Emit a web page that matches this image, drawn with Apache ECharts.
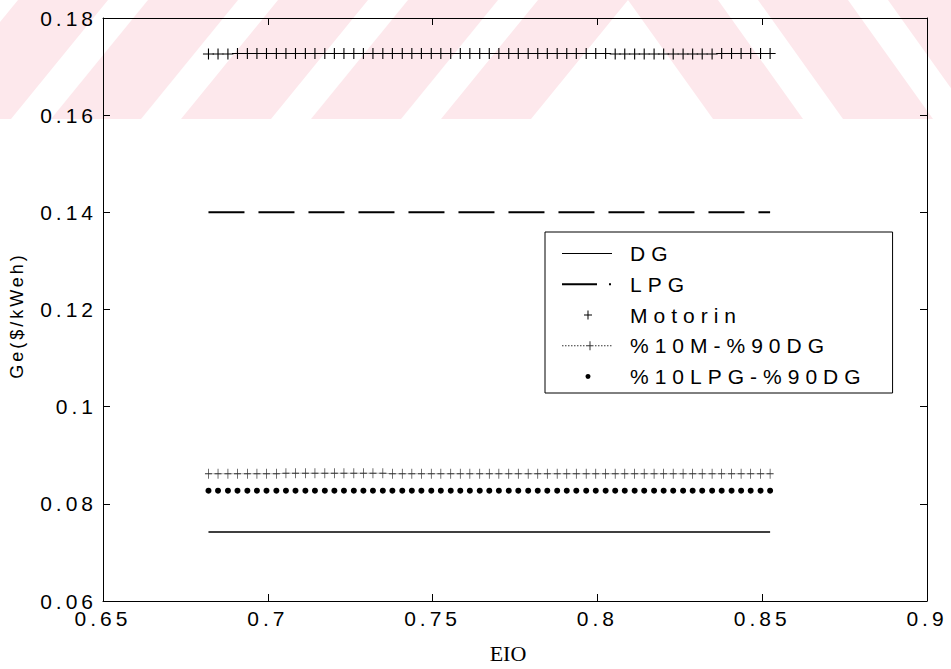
<!DOCTYPE html>
<html>
<head>
<meta charset="utf-8">
<script src="https://cdn.jsdelivr.net/npm/echarts@6/dist/echarts.min.js"></script>
<style>
html,body{margin:0;padding:0;background:#fff;}
#main{width:951px;height:669px;}
text[style*="tickfont"], text[font-family*="tickfont"]{letter-spacing:4px;}
text[style*="legendfont"], text[font-family*="legendfont"]{letter-spacing:6px;}
text[style*="ynamefont"], text[font-family*="ynamefont"]{letter-spacing:3px;}
</style>
</head>
<body>
<div id="main"></div>
<script>
// ---------------- data ----------------
const eio = [
  0.6820,0.6849,0.6879,0.6908,0.6938,0.6967,0.6996,0.7026,0.7055,0.7084,
  0.7114,0.7143,0.7173,0.7202,0.7231,0.7261,0.7290,0.7319,0.7349,0.7378,
  0.7408,0.7437,0.7466,0.7496,0.7525,0.7555,0.7584,0.7613,0.7643,0.7672,
  0.7701,0.7731,0.7760,0.7790,0.7819,0.7848,0.7878,0.7907,0.7936,0.7966,
  0.7995,0.8025,0.8054,0.8083,0.8113,0.8142,0.8172,0.8201,0.8230,0.8260,
  0.8289,0.8318,0.8348,0.8377,0.8407,0.8436,0.8465,0.8495,0.8524
];
const dg = [
  0.0742,0.0742,0.0742,0.0742,0.0742,0.0742,0.0742,0.0742,0.0742,0.0742,
  0.0742,0.0742,0.0742,0.0742,0.0742,0.0742,0.0742,0.0742,0.0742,0.0742,
  0.0742,0.0742,0.0742,0.0742,0.0742,0.0742,0.0742,0.0742,0.0742,0.0742,
  0.0742,0.0742,0.0742,0.0742,0.0742,0.0742,0.0742,0.0742,0.0742,0.0742,
  0.0742,0.0742,0.0742,0.0742,0.0742,0.0742,0.0742,0.0742,0.0742,0.0742,
  0.0742,0.0742,0.0742,0.0742,0.0742,0.0742,0.0742,0.0742,0.0742
];
const lpg = [
  0.1400,0.1400,0.1400,0.1400,0.1400,0.1400,0.1400,0.1400,0.1400,0.1400,
  0.1400,0.1400,0.1400,0.1400,0.1400,0.1400,0.1400,0.1400,0.1400,0.1400,
  0.1400,0.1400,0.1400,0.1400,0.1400,0.1400,0.1400,0.1400,0.1400,0.1400,
  0.1400,0.1400,0.1400,0.1400,0.1400,0.1400,0.1400,0.1400,0.1400,0.1400,
  0.1400,0.1400,0.1400,0.1400,0.1400,0.1400,0.1400,0.1400,0.1400,0.1400,
  0.1400,0.1400,0.1400,0.1400,0.1400,0.1400,0.1400,0.1400,0.1400
];
const motorin = [
  0.1726,0.1726,0.1726,0.1727,0.1727,0.1727,0.1727,0.1727,0.1727,0.1727,
  0.1727,0.1727,0.1727,0.1727,0.1727,0.1727,0.1727,0.1727,0.1727,0.1727,
  0.1727,0.1727,0.1727,0.1727,0.1727,0.1727,0.1727,0.1727,0.1727,0.1727,
  0.1727,0.1727,0.1727,0.1727,0.1727,0.1727,0.1727,0.1727,0.1727,0.1727,
  0.1727,0.1727,0.1726,0.1726,0.1726,0.1726,0.1726,0.1726,0.1726,0.1726,
  0.1726,0.1726,0.1726,0.1727,0.1727,0.1727,0.1727,0.1727,0.1727
];
const m10dg90 = [
  0.0862,0.0862,0.0862,0.0862,0.0862,0.0862,0.0862,0.0862,0.0863,0.0863,
  0.0863,0.0863,0.0863,0.0863,0.0863,0.0863,0.0863,0.0863,0.0863,0.0862,
  0.0862,0.0862,0.0862,0.0862,0.0862,0.0862,0.0862,0.0862,0.0862,0.0862,
  0.0862,0.0862,0.0862,0.0862,0.0862,0.0862,0.0862,0.0862,0.0862,0.0862,
  0.0862,0.0862,0.0862,0.0862,0.0862,0.0862,0.0862,0.0862,0.0862,0.0862,
  0.0862,0.0862,0.0862,0.0862,0.0862,0.0862,0.0862,0.0862,0.0862
];
const lpg10dg90 = [
  0.0827,0.0827,0.0827,0.0827,0.0827,0.0827,0.0827,0.0827,0.0827,0.0827,
  0.0827,0.0827,0.0827,0.0827,0.0827,0.0827,0.0827,0.0827,0.0827,0.0827,
  0.0827,0.0827,0.0827,0.0827,0.0827,0.0827,0.0827,0.0827,0.0827,0.0827,
  0.0827,0.0827,0.0827,0.0827,0.0827,0.0827,0.0827,0.0827,0.0827,0.0827,
  0.0827,0.0827,0.0827,0.0827,0.0827,0.0827,0.0827,0.0827,0.0827,0.0827,
  0.0827,0.0827,0.0827,0.0827,0.0827,0.0827,0.0827,0.0827,0.0827
];
const seriesNames = ['DG', 'LPG', 'Motorin', '%10M-%90DG', '%10LPG-%90DG'];
const xTickLabels = ['0.65', '0.7', '0.75', '0.8', '0.85', '0.9'];
const yTickLabels = ['0.06', '0.08', '0.1', '0.12', '0.14', '0.16', '0.18'];
const xName = 'EIO';
const yName = 'Ge($/kWeh)';

// ---------------- styling helpers ----------------
const pairs = a => eio.map((x, i) => [x, a[i]]);
const PLUS = 'path://M4.5,0 H5.5 V4.5 H10 V5.5 H5.5 V10 H4.5 V5.5 H0 V4.5 H4.5 Z';
const BOX = 'M0,0 L0.01,0 M63,12 L63.01,12 ';
function dotted() {
  let s = '';
  for (let x = 0; x < 50; x += 3) s += 'M' + x + ',5.5 h1.5 v1 h-1.5 Z ';
  return s;
}
const icons = {
  'DG': 'path://' + BOX + 'M0,5.5 H50 V6.5 H0 Z',
  'LPG': 'path://' + BOX + 'M0,5 H35 V7 H0 Z M47,5 H49 V7 H47 Z',
  'Motorin': 'path://' + BOX + 'M25.5,1.5 H26.5 V5.5 H30 V6.5 H26.5 V10.5 H25.5 V6.5 H22 V5.5 H25.5 Z',
  '%10M-%90DG': 'path://' + BOX + dotted() + 'M27.5,1.5 H28.5 V10.5 H27.5 Z M25,5.5 H31 V6.5 H25 Z',
  '%10LPG-%90DG': 'path://' + BOX + 'M28.5,6 A2.5,2.5 0 1 1 23.5,6 A2.5,2.5 0 1 1 28.5,6 Z'
};

// watermark bands (decorative background)
const PINK = '#fde8ec';
const wm = [];
[628, 498, 368, 238, 108, -22].forEach(r => {
  wm.push({type: 'polygon', z: -10, silent: true,
    shape: {points: [[r - 90, 0], [r, 0], [r - 97, 119], [r - 187, 119]]},
    style: {fill: PINK}});
});
[628, 758, 888].forEach(l => {
  wm.push({type: 'polygon', z: -10, silent: true,
    shape: {points: [[l, 0], [l + 90, 0], [l + 175, 119], [l + 85, 119]]},
    style: {fill: PINK}});
});

const chart = echarts.init(document.getElementById('main'), null, {renderer: 'svg'});
const tickFont = "'Liberation Sans', tickfont";
const axisCommon = {
  type: 'value',
  axisLine: {show: true, onZero: false, lineStyle: {color: '#000', width: 1}},
  axisTick: {show: true, inside: true, length: 7, lineStyle: {color: '#000', width: 1}},
  splitLine: {show: false}
};

chart.setOption({
  animation: false,
  backgroundColor: '#fff',
  graphic: wm,
  grid: {left: 102, right: 24, top: 18, bottom: 63, containLabel: false},
  legend: {
    orient: 'vertical',
    left: 545, top: 232,
    padding: [11, 98, 6, 17],
    itemGap: 9.75,
    itemWidth: 63, itemHeight: 12,
    borderColor: '#000', borderWidth: 1,
    backgroundColor: '#fff',
    selectedMode: false,
    itemStyle: {borderWidth: 0},
    textStyle: {fontSize: 21, lineHeight: 20, color: '#000', fontFamily: "'Liberation Sans', legendfont"},
    data: seriesNames.map(n => ({name: n, icon: icons[n]}))
  },
  xAxis: [
    Object.assign({}, axisCommon, {
      position: 'bottom', min: 0.65, max: 0.9, interval: 0.05,
      name: xName, nameLocation: 'middle', nameGap: 41,
      nameTextStyle: {fontSize: 22, color: '#000', fontFamily: "'Liberation Serif', serif", padding: [0, 14, 0, 0]},
      axisLabel: {show: true, margin: 9, fontSize: 21, lineHeight: 17, color: '#000', fontFamily: tickFont,
        formatter: v => xTickLabels[Math.round((v - 0.65) / 0.05)]}
    }),
    Object.assign({}, axisCommon, {
      position: 'top', min: 0.65, max: 0.9, interval: 0.05,
      axisLabel: {show: false}
    })
  ],
  yAxis: [
    Object.assign({}, axisCommon, {
      position: 'left', min: 0.06, max: 0.18, interval: 0.02,
      name: yName, nameLocation: 'middle', nameGap: 77,
      nameTextStyle: {fontSize: 18, color: '#000', fontFamily: "'Liberation Sans', ynamefont", padding: [0, 12, 0, 0]},
      axisLabel: {show: true, margin: 6, fontSize: 21, lineHeight: 17, color: '#000', fontFamily: tickFont,
        formatter: v => yTickLabels[Math.round((v - 0.06) / 0.02)]}
    }),
    Object.assign({}, axisCommon, {
      position: 'right', min: 0.06, max: 0.18, interval: 0.02,
      axisLabel: {show: false}
    })
  ],
  series: [
    {
      name: seriesNames[0], type: 'line', data: pairs(dg),
      showSymbol: false, symbol: 'none',
      itemStyle: {color: '#000', borderWidth: 0},
      lineStyle: {color: '#000', width: 1.5}
    },
    {
      name: seriesNames[1], type: 'line', data: pairs(lpg),
      showSymbol: false, symbol: 'none',
      itemStyle: {color: '#000', borderWidth: 0},
      lineStyle: {color: '#000', width: 2, type: [36, 14]}
    },
    {
      name: seriesNames[2], type: 'line', data: pairs(motorin),
      symbol: PLUS, symbolSize: [11, 11], showSymbol: true, showAllSymbol: true,
      itemStyle: {color: '#000', borderWidth: 0},
      lineStyle: {width: 0, opacity: 0}
    },
    {
      name: seriesNames[3], type: 'line', data: pairs(m10dg90),
      symbol: PLUS, symbolSize: [7, 10], showSymbol: true, showAllSymbol: true,
      itemStyle: {color: '#333', borderWidth: 0},
      lineStyle: {color: '#777', width: 1, type: 'dotted'}
    },
    {
      name: seriesNames[4], type: 'line', data: pairs(lpg10dg90),
      symbol: 'circle', symbolSize: 6, showSymbol: true, showAllSymbol: true,
      itemStyle: {color: '#000', borderWidth: 0},
      lineStyle: {width: 0, opacity: 0}
    }
  ]
});
</script>
</body>
</html>
